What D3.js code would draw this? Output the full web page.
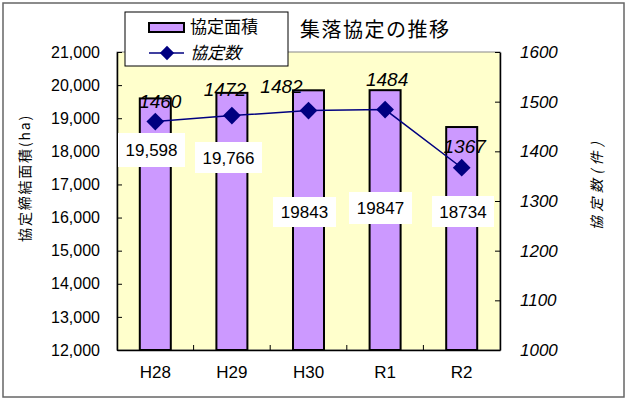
<!DOCTYPE html>
<html><head><meta charset="utf-8">
<script src="https://cdn.jsdelivr.net/npm/d3@7"></script>
<style>
body{margin:0;background:#fff;}
svg{display:block;font-family:"Liberation Sans","Noto Sans CJK JP",sans-serif;}
</style></head>
<body><svg id="chart" width="627" height="399"></svg>
<script>
// 集落協定の推移
const categories = ["H28", "H29", "H30", "R1", "R2"];
const areaValues = [19598, 19766, 19843, 19847, 18734];      // 協定締結面積 (ha)
const areaLabels = ["19,598", "19,766", "19843", "19847", "18734"];
const countValues = [1460, 1472, 1482, 1484, 1367];            // 協定数 (件)
const leftTicks = [12000, 13000, 14000, 15000, 16000, 17000, 18000, 19000, 20000, 21000];
const rightTicks = [1000, 1100, 1200, 1300, 1400, 1500, 1600];

// label placement offsets (px)
const countLabelOffset = [[5, -20], [-7, -26], [-27, -24], [2, -30], [3, -22]];
const areaBoxes = [[118, 133, 67, 34], [195, 142, 67, 31], [273, 197, 63, 30], [349, 192, 63, 32], [432, 196, 62, 31]];

const svg = d3.select("#chart");
const plot = {l: 117, t: 52, r: 500, b: 350};

// outer frame
svg.append("rect").attr("x", 3).attr("y", 3).attr("width", 621).attr("height", 394)
  .attr("fill", "#fff").attr("stroke", "#666").attr("stroke-width", 1.5);

const x = d3.scaleBand().domain(categories).range([plot.l, plot.r]).paddingInner(0).paddingOuter(0);
const yL = d3.scaleLinear().domain([12000, 21000]).range([plot.b, plot.t]);
const yR = d3.scaleLinear().domain([1000, 1600]).range([plot.b, plot.t]);

// plot area
svg.append("rect").attr("x", plot.l).attr("y", plot.t).attr("width", plot.r - plot.l).attr("height", plot.b - plot.t)
  .attr("fill", "#FFFFCC").attr("stroke", "#888").attr("stroke-width", 1);

// bars
const barW = 31;
svg.append("g").selectAll("rect").data(areaValues).join("rect")
  .attr("x", (d, i) => x(categories[i]) + x.bandwidth() / 2 - barW / 2)
  .attr("y", d => yL(d))
  .attr("width", barW)
  .attr("height", d => plot.b - yL(d))
  .attr("fill", "#CC99FF").attr("stroke", "#000").attr("stroke-width", 2);

// left axis
const axL = svg.append("g").attr("transform", `translate(${plot.l},0)`)
  .call(d3.axisLeft(yL).tickValues(leftTicks).tickFormat(d3.format(",")).tickSizeInner(-5).tickSizeOuter(0).tickPadding(17));
axL.select(".domain").attr("stroke", "#000").attr("stroke-width", 1.5);
axL.selectAll(".tick line").attr("stroke", "#000");
axL.selectAll("text").attr("font-size", 16).attr("fill", "#000").attr("font-family", "Liberation Sans, sans-serif");

// right axis
const axR = svg.append("g").attr("transform", `translate(${plot.r},0)`)
  .call(d3.axisRight(yR).tickValues(rightTicks).tickFormat(d3.format("d")).tickSizeInner(-5).tickSizeOuter(0).tickPadding(20));
axR.select(".domain").attr("stroke", "#000").attr("stroke-width", 1.5);
axR.selectAll(".tick line").attr("stroke", "#000");
axR.selectAll("text").attr("font-size", 17).attr("font-style", "italic").attr("fill", "#000");

// bottom axis (ticks between categories)
const axB = svg.append("g").attr("transform", `translate(0,${plot.b})`)
  .call(d3.axisBottom(x).tickSize(0).tickPadding(16));
axB.select(".domain").attr("stroke", "#000").attr("stroke-width", 1.5);
axB.selectAll("text").attr("font-size", 17).attr("fill", "#000").attr("dy", "0.71em");
svg.append("g").selectAll("line").data(categories.slice(1)).join("line")
  .attr("x1", d => x(d)).attr("x2", d => x(d))
  .attr("y1", plot.b).attr("y2", plot.b - 5).attr("stroke", "#000");

// line series
const cx = i => x(categories[i]) + x.bandwidth() / 2;
const line = d3.line().x((d, i) => cx(i)).y(d => yR(d));
svg.append("path").datum(countValues).attr("d", line)
  .attr("fill", "none").attr("stroke", "#000080").attr("stroke-width", 1.5);
const diamond = d3.symbol().type(d3.symbolDiamond2).size(200);
svg.append("g").selectAll("path").data(countValues).join("path")
  .attr("d", diamond).attr("transform", (d, i) => `translate(${cx(i)},${yR(d)})`)
  .attr("fill", "#000080");

// count labels
svg.append("g").selectAll("text").data(countValues).join("text")
  .attr("x", (d, i) => cx(i) + countLabelOffset[i][0])
  .attr("y", (d, i) => yR(d) + countLabelOffset[i][1])
  .attr("dy", "0.36em").attr("text-anchor", "middle")
  .attr("font-size", 19).attr("font-style", "italic").attr("fill", "#000")
  .text(d => d);

// area labels in white boxes
const ag = svg.append("g").selectAll("g").data(areaValues).join("g");
ag.append("rect")
  .attr("x", (d, i) => areaBoxes[i][0]).attr("y", (d, i) => areaBoxes[i][1])
  .attr("width", (d, i) => areaBoxes[i][2]).attr("height", (d, i) => areaBoxes[i][3])
  .attr("fill", "#fff");
ag.append("text")
  .attr("x", (d, i) => areaBoxes[i][0] + areaBoxes[i][2] / 2)
  .attr("y", (d, i) => areaBoxes[i][1] + areaBoxes[i][3] / 2)
  .attr("dy", "0.36em").attr("text-anchor", "middle")
  .attr("font-size", 17).attr("fill", "#000")
  .text((d, i) => areaLabels[i]);

// axis titles
svg.append("text").attr("transform", "translate(25,178) rotate(-90)")
  .attr("text-anchor", "middle").attr("dy", "0.36em")
  .attr("font-size", 14).attr("letter-spacing", 1.8).attr("fill", "#000")
  .attr("font-family", "Noto Sans CJK JP, sans-serif")
  .text("協定締結面積(ha)");
svg.append("text").attr("transform", "translate(597,184) rotate(-90)")
  .attr("text-anchor", "middle").attr("dy", "0.36em")
  .attr("font-size", 14).attr("letter-spacing", 4.5).attr("font-style", "italic").attr("fill", "#000")
  .attr("font-family", "Noto Sans CJK JP, sans-serif")
  .text("協定数(件)");

// title
svg.append("text").attr("x", 300).attr("y", 30).attr("dy", "0.36em")
  .attr("font-size", 20).attr("letter-spacing", 1.5).attr("fill", "#000")
  .attr("font-family", "Noto Sans CJK JP, sans-serif")
  .text("集落協定の推移");

// legend
const lg = svg.append("g");
lg.append("rect").attr("x", 125).attr("y", 12).attr("width", 163).attr("height", 54)
  .attr("fill", "#fff").attr("stroke", "#000").attr("stroke-width", 1);
lg.append("rect").attr("x", 149).attr("y", 23).attr("width", 35).attr("height", 9)
  .attr("fill", "#CC99FF").attr("stroke", "#000").attr("stroke-width", 2);
lg.append("line").attr("x1", 149).attr("x2", 184).attr("y1", 53).attr("y2", 53)
  .attr("stroke", "#000080").attr("stroke-width", 1.5);
lg.append("path").attr("d", d3.symbol().type(d3.symbolDiamond2).size(130))
  .attr("transform", "translate(167,53)").attr("fill", "#000080");
lg.append("text").attr("x", 190).attr("y", 27).attr("dy", "0.36em")
  .attr("font-size", 17).attr("fill", "#000").attr("font-family", "Noto Sans CJK JP, sans-serif")
  .text("協定面積");
lg.append("text").attr("x", 190).attr("y", 53).attr("dy", "0.36em")
  .attr("font-size", 17).attr("font-style", "italic").attr("fill", "#000").attr("font-family", "Noto Sans CJK JP, sans-serif")
  .text("協定数");
</script></body></html>
